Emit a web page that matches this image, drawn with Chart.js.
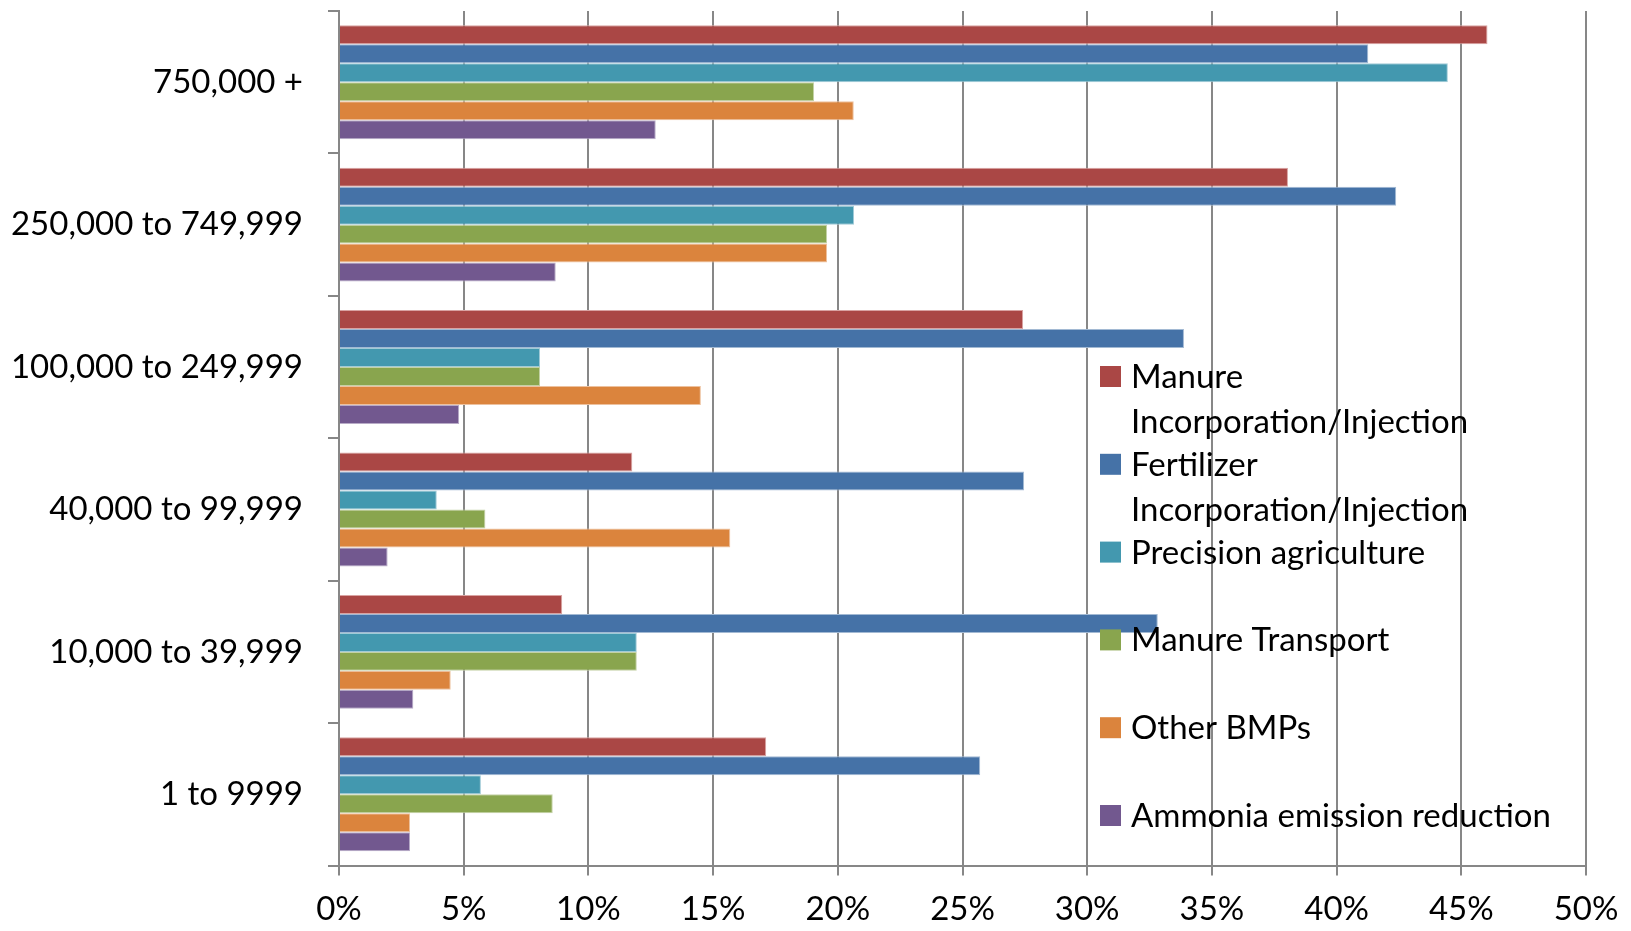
<!DOCTYPE html>
<html>
<head>
<meta charset="utf-8">
<title>Adoption of nitrogen BMPs by operation size</title>
<script src="https://cdn.jsdelivr.net/npm/chart.js@4.4.1/dist/chart.umd.min.js"></script>
<style>
  html, body { margin: 0; padding: 0; background: #ffffff; }
  #wrap { width: 1631px; height: 931px; position: relative; }
</style>
</head>
<body>
<div id="wrap"><canvas id="chart"></canvas></div>
<script>
// Operation size classes, top to bottom
const categories = [
  "750,000 +",
  "250,000 to 749,999",
  "100,000 to 249,999",
  "40,000 to 99,999",
  "10,000 to 39,999",
  "1 to 9999"
];

// Share of operations using each practice (percent)
const manureIncorporation     = [46.05, 38.05, 27.43, 11.76,  8.95, 17.13];
const fertilizerIncorporation = [41.27, 42.39, 33.88, 27.47, 32.83, 25.71];
const precisionAgriculture    = [44.46, 20.65,  8.06,  3.92, 11.94,  5.69];
const manureTransport         = [19.05, 19.57,  8.06,  5.87, 11.94,  8.57];
const otherBMPs               = [20.64, 19.57, 14.51, 15.69,  4.48,  2.85];
const ammoniaReduction        = [12.70,  8.69,  4.82,  1.95,  2.98,  2.85];

const seriesNames = [
  "Manure Incorporation/Injection",
  "Fertilizer Incorporation/Injection",
  "Precision agriculture",
  "Manure Transport",
  "Other BMPs",
  "Ammonia emission reduction"
];

const xTicks = [0, 5, 10, 15, 20, 25, 30, 35, 40, 45, 50];

const seriesColors = ["#AA4745", "#4572A7", "#4398AF", "#89A54E", "#DB843D", "#72588F"];
const seriesEdges  = ["#D9A3A2", "#A2B9D3", "#A1CBD7", "#C4D2A6", "#EDC19E", "#B8ABC7"];

const FONT = "Lato, 'Open Sans', sans-serif";
const AXIS_GREY = "#878787";

// Legend drawn on the canvas, over the plot, with wrapped entries
const sideLegend = {
  id: "sideLegend",
  afterDatasetsDraw(chart) {
    const ctx = chart.ctx;
    const left = 1100, box = 21, textX = 1131;
    const firstBaseline = 388, slot = 87.8, lineGap = 45, maxWidth = 440;
    ctx.save();
    ctx.font = "33px " + FONT;
    ctx.textAlign = "left";
    ctx.textBaseline = "alphabetic";
    chart.data.datasets.forEach((ds, i) => {
      const base = firstBaseline + i * slot;
      ctx.fillStyle = ds.backgroundColor;
      ctx.fillRect(left, base - 22, box, box);
      // word wrap
      const words = ds.label.split(" ");
      const lines = [];
      let cur = "";
      words.forEach(w => {
        const test = cur ? cur + " " + w : w;
        if (cur && ctx.measureText(test).width > maxWidth) {
          lines.push(cur);
          cur = w;
        } else {
          cur = test;
        }
      });
      if (cur) lines.push(cur);
      ctx.fillStyle = "#000000";
      lines.forEach((ln, k) => ctx.fillText(ln, textX, base + k * lineGap));
    });
    ctx.restore();
  }
};

function build() {
  const values = [
    manureIncorporation, fertilizerIncorporation, precisionAgriculture,
    manureTransport, otherBMPs, ammoniaReduction
  ];
  const datasets = values.map((v, i) => ({
    label: seriesNames[i],
    data: v,
    backgroundColor: seriesColors[i],
    borderColor: seriesEdges[i],
    borderWidth: 1,
    borderSkipped: "start",
    categoryPercentage: 0.8,
    barPercentage: 1.0
  }));

  new Chart(document.getElementById("chart"), {
    type: "bar",
    data: { labels: categories, datasets },
    plugins: [sideLegend],
    options: {
      indexAxis: "y",
      responsive: true,
      maintainAspectRatio: false,
      animation: false,
      layout: { padding: { left: 0, top: 11, right: 45, bottom: 0 } },
      plugins: {
        legend: { display: false },
        tooltip: { enabled: false },
        title: { display: false }
      },
      scales: {
        x: {
          type: "linear",
          min: 0,
          max: 50,
          afterBuildTicks(scale) {
            scale.ticks = xTicks.map(v => ({ value: v }));
          },
          afterFit(scale) {
            scale.height = 65.5;
            scale.paddingLeft = 0;
            scale.paddingRight = 0;
          },
          grid: {
            color: AXIS_GREY,
            lineWidth: 2,
            drawTicks: true,
            tickLength: 10
          },
          border: { display: true, color: AXIS_GREY, width: 2 },
          ticks: {
            color: "#000000",
            font: { family: FONT, size: 33 },
            padding: 14,
            maxRotation: 0,
            autoSkip: false,
            callback: v => v + "%"
          }
        },
        y: {
          type: "category",
          offset: true,
          afterFit(scale) {
            scale.width = 339;
            scale.paddingTop = 0;
            scale.paddingBottom = 0;
          },
          grid: {
            offset: true,
            drawOnChartArea: false,
            drawTicks: true,
            tickLength: 11,
            color: AXIS_GREY,
            lineWidth: 2
          },
          border: { display: true, color: AXIS_GREY, width: 2 },
          ticks: {
            color: "#000000",
            font: { family: FONT, size: 33 },
            padding: 25,
            autoSkip: false
          }
        }
      }
    }
  });
}

if (document.fonts && document.fonts.load) {
  document.fonts.load("33px Lato").then(build, build);
} else {
  build();
}
</script>
</body>
</html>
